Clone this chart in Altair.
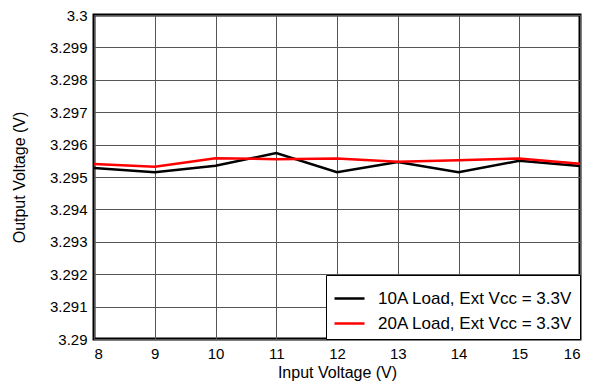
import altair as alt
import pandas as pd

input_v = [8, 9, 10, 11, 12, 13, 14, 15, 16]
load10 = [3.29528, 3.29515, 3.29535, 3.29574, 3.29515, 3.29546, 3.29515, 3.29550, 3.29534]
load20 = [3.29540, 3.29532, 3.29558, 3.29555, 3.29557, 3.29547, 3.29552, 3.29557, 3.29541]
series = ["10A Load, Ext Vcc = 3.3V", "20A Load, Ext Vcc = 3.3V"]
colors = ["#000000", "#ff0000"]

rows = []
for x, a, b in zip(input_v, load10, load20):
    rows.append({"x": x, "y": a, "s": series[0]})
    rows.append({"x": x, "y": b, "s": series[1]})
df = pd.DataFrame(rows)

font = "Liberation Sans"

chart = alt.Chart(df).mark_line(strokeWidth=2.5).encode(
    x=alt.X("x:Q", scale=alt.Scale(domain=[8, 16], nice=False),
            axis=alt.Axis(values=input_v, title="Input Voltage (V)", format="d")),
    y=alt.Y("y:Q", scale=alt.Scale(domain=[3.29, 3.3], nice=False, zero=False),
            axis=alt.Axis(values=[3.29 + i * 0.001 for i in range(11)], format=".3~f",
                          title="Output Voltage (V)")),
    color=alt.Color("s:N", scale=alt.Scale(domain=series, range=colors),
                    legend=alt.Legend(title=None, orient="bottom-right", offset=0,
                                      strokeColor="black", fillColor="white",
                                      padding=7, symbolType="stroke", symbolSize=900,
                                      symbolStrokeWidth=2.5, labelFontSize=17,
                                      labelFont=font, rowPadding=0, labelColor="black",
                                      labelLimit=400, labelOffset=12)),
).properties(
    width=486, height=324,
    autosize=alt.AutoSizeParams(type="none"),
    padding={"left": 86, "top": 7, "right": 4, "bottom": 48},
).configure_view(
    stroke="black", strokeWidth=3
).configure_axis(
    domain=False, grid=True, gridColor="#555555", gridWidth=1, ticks=False,
    labelFont=font, labelFontSize=15, labelColor="black", labelPadding=7,
    titleFont=font, titleFontSize=16, titleFontWeight="normal", titleColor="black"
).configure_axisY(titlePadding=22).configure_axisX(titlePadding=3)

chart.save("out.html", embed_options={"renderer": "svg", "actions": False})
